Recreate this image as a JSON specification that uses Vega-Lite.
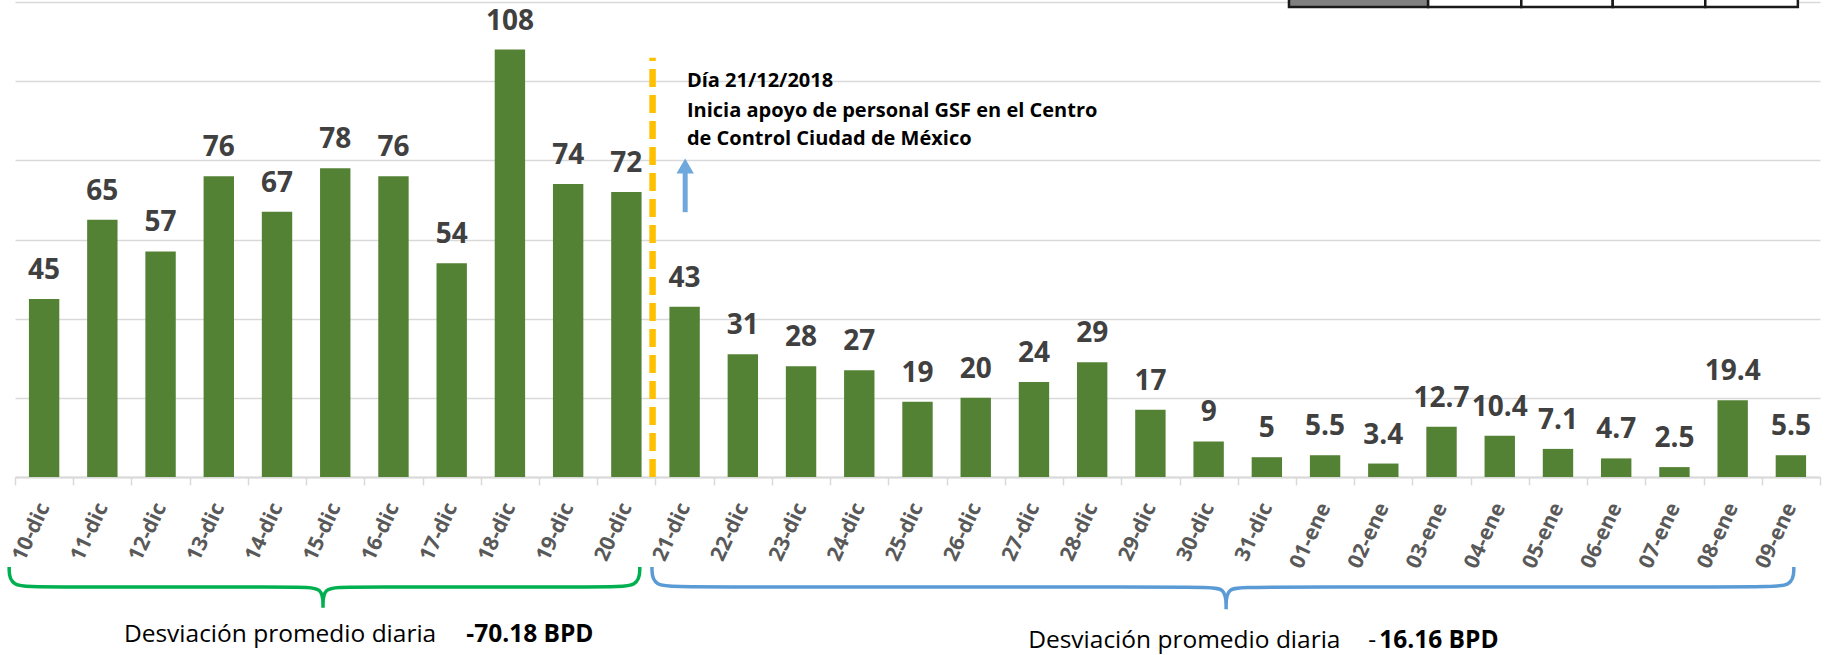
{
  "$schema": "https://vega.github.io/schema/vega-lite/v6.json",
  "width": 1805,
  "height": 475,
  "autosize": {"type": "none"},
  "padding": {"left": 15, "top": 2, "right": 5, "bottom": 178},
  "background": "white",
  "config": {
    "view": {"stroke": null},
    "font": "Open Sans",
    "axisY": {"grid": true, "gridColor": "#D9D9D9", "gridWidth": 1.5, "labels": false, "ticks": false, "domain": false, "tickCount": 6}
  },
  "layer": [
    {
      "data": {"values": [
        {"day": "10-dic", "v": 45}, {"day": "11-dic", "v": 65}, {"day": "12-dic", "v": 57},
        {"day": "13-dic", "v": 76}, {"day": "14-dic", "v": 67}, {"day": "15-dic", "v": 78},
        {"day": "16-dic", "v": 76}, {"day": "17-dic", "v": 54}, {"day": "18-dic", "v": 108},
        {"day": "19-dic", "v": 74}, {"day": "20-dic", "v": 72}, {"day": "21-dic", "v": 43},
        {"day": "22-dic", "v": 31}, {"day": "23-dic", "v": 28}, {"day": "24-dic", "v": 27},
        {"day": "25-dic", "v": 19}, {"day": "26-dic", "v": 20}, {"day": "27-dic", "v": 24},
        {"day": "28-dic", "v": 29}, {"day": "29-dic", "v": 17}, {"day": "30-dic", "v": 9},
        {"day": "31-dic", "v": 5}, {"day": "01-ene", "v": 5.5}, {"day": "02-ene", "v": 3.4},
        {"day": "03-ene", "v": 12.7}, {"day": "04-ene", "v": 10.4}, {"day": "05-ene", "v": 7.1},
        {"day": "06-ene", "v": 4.7}, {"day": "07-ene", "v": 2.5}, {"day": "08-ene", "v": 19.4},
        {"day": "09-ene", "v": 5.5}
      ]},
      "encoding": {
        "x": {
          "field": "day", "type": "nominal", "sort": null,
          "scale": {"paddingInner": 0, "paddingOuter": 0},
          "axis": {
            "title": null, "labelAngle": -65, "labelFont": "Open Sans", "labelFontWeight": "bold",
            "labelFontSize": 21, "labelColor": "#595959", "labelPadding": 19,
            "tickBand": "extent", "tickColor": "#D9D9D9", "tickSize": 8, "tickWidth": 1.5,
            "domainColor": "#D9D9D9", "domainWidth": 2, "grid": false
          }
        },
        "y": {"field": "v", "type": "quantitative", "title": null, "scale": {"domain": [0, 120], "nice": false}}
      },
      "layer": [
        {"mark": {"type": "bar", "color": "#548235", "width": {"band": 0.522}}},
        {
          "mark": {"type": "text", "font": "Open Sans", "fontWeight": "bold", "fontSize": 28, "color": "#404040", "baseline": "alphabetic", "dy": -20},
          "encoding": {"text": {"field": "v", "type": "nominal"}}
        }
      ]
    },
    {
      "layer": [
        {
          "data": {"values": [{"x": 10.95, "v": 0, "v2": 105.9}]},
          "mark": {"type": "rule", "color": "#FFC000", "strokeWidth": 6.5, "strokeDash": [18, 8]},
          "encoding": {
            "x": {"field": "x", "type": "quantitative", "scale": {"domain": [0, 31], "nice": false, "zero": false}, "axis": null},
            "y": {"field": "v", "type": "quantitative", "title": null, "scale": {"domain": [0, 120], "nice": false}},
            "y2": {"field": "v2"}
          }
        },
        {
          "data": {"values": [{"x": 11.51, "v": 66.9, "v2": 77.0}]},
          "mark": {"type": "rule", "color": "#6FA8DC", "strokeWidth": 5},
          "encoding": {
            "x": {"field": "x", "type": "quantitative", "scale": {"domain": [0, 31], "nice": false, "zero": false}, "axis": null},
            "y": {"field": "v", "type": "quantitative", "title": null, "scale": {"domain": [0, 120], "nice": false}},
            "y2": {"field": "v2"}
          }
        },
        {
          "data": {"values": [{"x": 11.51, "v": 78.6}]},
          "mark": {"type": "point", "shape": "triangle-up", "filled": true, "color": "#6FA8DC", "size": 300, "opacity": 1},
          "encoding": {
            "x": {"field": "x", "type": "quantitative", "scale": {"domain": [0, 31], "nice": false, "zero": false}, "axis": null},
            "y": {"field": "v", "type": "quantitative", "title": null, "scale": {"domain": [0, 120], "nice": false}}
          }
        },
        {
          "data": {"values": [
            {"x": 11.54, "v": 98.5, "t": "Día 21/12/2018"},
            {"x": 11.54, "v": 90.9, "t": "Inicia apoyo de personal GSF en el Centro"},
            {"x": 11.54, "v": 83.8, "t": "de Control Ciudad de México"}
          ]},
          "mark": {"type": "text", "align": "left", "baseline": "alphabetic", "font": "Open Sans", "fontWeight": "bold", "fontSize": 20, "color": "#000000"},
          "encoding": {
            "x": {"field": "x", "type": "quantitative", "scale": {"domain": [0, 31], "nice": false, "zero": false}, "axis": null},
            "y": {"field": "v", "type": "quantitative", "title": null, "scale": {"domain": [0, 120], "nice": false}},
            "text": {"field": "t", "type": "nominal"}
          }
        },
        {
          "data": {"values": [
            {"b": "g", "o": 1, "x": -0.1, "v": -22.74},
            {"b": "g", "o": 2, "x": -0.1, "v": -27.79},
            {"b": "g", "o": 3, "x": 0.5, "v": -27.79},
            {"b": "g", "o": 4, "x": 4.9, "v": -27.79},
            {"b": "g", "o": 5, "x": 5.29, "v": -27.79},
            {"b": "g", "o": 6, "x": 5.29, "v": -33.0},
            {"b": "g", "o": 7, "x": 5.29, "v": -33.0},
            {"b": "g", "o": 8, "x": 5.29, "v": -33.0},
            {"b": "g", "o": 9, "x": 5.29, "v": -27.79},
            {"b": "g", "o": 10, "x": 5.68, "v": -27.79},
            {"b": "g", "o": 11, "x": 10.13, "v": -27.79},
            {"b": "g", "o": 12, "x": 10.73, "v": -27.79},
            {"b": "g", "o": 13, "x": 10.73, "v": -22.74},
            {"b": "b", "o": 1, "x": 10.94, "v": -22.74},
            {"b": "b", "o": 2, "x": 10.94, "v": -27.79},
            {"b": "b", "o": 3, "x": 11.55, "v": -27.79},
            {"b": "b", "o": 4, "x": 20.41, "v": -27.79},
            {"b": "b", "o": 5, "x": 20.8, "v": -27.79},
            {"b": "b", "o": 6, "x": 20.8, "v": -33.4},
            {"b": "b", "o": 7, "x": 20.8, "v": -33.4},
            {"b": "b", "o": 8, "x": 20.8, "v": -33.4},
            {"b": "b", "o": 9, "x": 20.8, "v": -27.79},
            {"b": "b", "o": 10, "x": 21.19, "v": -27.79},
            {"b": "b", "o": 11, "x": 29.95, "v": -27.79},
            {"b": "b", "o": 12, "x": 30.55, "v": -27.79},
            {"b": "b", "o": 13, "x": 30.55, "v": -22.74}
          ]},
          "mark": {"type": "line", "interpolate": "basis", "strokeWidth": 3.5},
          "encoding": {
            "x": {"field": "x", "type": "quantitative", "scale": {"domain": [0, 31], "nice": false, "zero": false}, "axis": null},
            "y": {"field": "v", "type": "quantitative", "title": null, "scale": {"domain": [0, 120], "nice": false}},
            "order": {"field": "o", "type": "quantitative"},
            "color": {"field": "b", "type": "nominal", "scale": {"domain": ["g", "b"], "range": ["#00B050", "#5B9BD5"]}, "legend": null}
          }
        },
        {
          "data": {"values": [
            {"x": 1.87, "v": -41.7, "t": "Desviación promedio diaria"},
            {"x": 17.4, "v": -43.2, "t": "Desviación promedio diaria"},
            {"x": 23.24, "v": -43.2, "t": "-"}
          ]},
          "mark": {"type": "text", "align": "left", "baseline": "alphabetic", "font": "Open Sans", "fontSize": 24.5, "color": "#000000"},
          "encoding": {
            "x": {"field": "x", "type": "quantitative", "scale": {"domain": [0, 31], "nice": false, "zero": false}, "axis": null},
            "y": {"field": "v", "type": "quantitative", "title": null, "scale": {"domain": [0, 120], "nice": false}},
            "text": {"field": "t", "type": "nominal"}
          }
        },
        {
          "data": {"values": [
            {"x": 7.75, "v": -41.7, "t": "-70.18 BPD"},
            {"x": 23.43, "v": -43.2, "t": "16.16 BPD"}
          ]},
          "mark": {"type": "text", "align": "left", "baseline": "alphabetic", "font": "Open Sans", "fontWeight": "bold", "fontSize": 24.5, "color": "#000000"},
          "encoding": {
            "x": {"field": "x", "type": "quantitative", "scale": {"domain": [0, 31], "nice": false, "zero": false}, "axis": null},
            "y": {"field": "v", "type": "quantitative", "title": null, "scale": {"domain": [0, 120], "nice": false}},
            "text": {"field": "t", "type": "nominal"}
          }
        },
        {
          "data": {"values": [
            {"x": 21.88, "x2": 24.27, "v": 118.75, "v2": 126, "cell": "head"},
            {"x": 24.27, "x2": 25.87, "v": 118.75, "v2": 126, "cell": "body"},
            {"x": 25.87, "x2": 27.44, "v": 118.75, "v2": 126, "cell": "body"},
            {"x": 27.44, "x2": 29.03, "v": 118.75, "v2": 126, "cell": "body"},
            {"x": 29.03, "x2": 30.62, "v": 118.75, "v2": 126, "cell": "body"}
          ]},
          "mark": {"type": "rect", "stroke": "#1A1A1A", "strokeWidth": 2.5},
          "encoding": {
            "x": {"field": "x", "type": "quantitative", "scale": {"domain": [0, 31], "nice": false, "zero": false}, "axis": null},
            "x2": {"field": "x2"},
            "y": {"field": "v", "type": "quantitative", "title": null, "scale": {"domain": [0, 120], "nice": false}},
            "y2": {"field": "v2"},
            "fill": {"field": "cell", "type": "nominal", "scale": {"domain": ["head", "body"], "range": ["#808080", "#FFFFFF"]}, "legend": null}
          }
        }
      ]
    }
  ],
  "resolve": {"scale": {"x": "independent"}}
}
